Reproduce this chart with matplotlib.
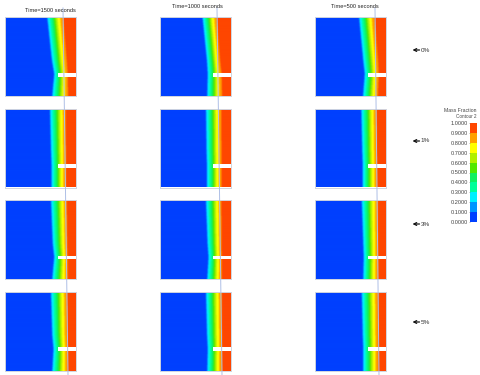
import matplotlib
matplotlib.use("Agg")
import matplotlib.pyplot as plt
import numpy as np
from matplotlib.colors import ListedColormap, BoundaryNorm, to_rgb
from matplotlib.cm import ScalarMappable

plt.rcParams['font.family'] = ['Liberation Sans', 'DejaVu Sans']

time_labels = ["Time=1500 seconds", "Time=1000 seconds", "Time=500 seconds"]
row_labels = ["0%", "1%", "3%", "5%"]
level_labels = ["0.0000", "0.1000", "0.2000", "0.3000", "0.4000", "0.5000",
                "0.6000", "0.7000", "0.8000", "0.9000", "1.0000"]
levels = [0, .1, .2, .3, .4, .5, .6, .7, .8, .9, 1]
band_colors = ["#0040ff", "#0096ff", "#00f0ff", "#00ff9a", "#10f060",
               "#50e800", "#b0f000", "#ffff00", "#ffa000", "#ff4600"]
# share of the way from the 0.1 contour to the 0.9 contour for each inner contour
contour_share = [0, .04, .17, .3, .42, .53, .65, .82, 1]

# depth fractions at which the contours were read
depth = [0, .55, .72, 1]
# 0.1 contour and 0.9 contour position, per row then per column
low_front = {
    (0, 0): [42, 46.7, 49, 47], (0, 1): [42.3, 46.7, 47.5, 47], (0, 2): [43.8, 48, 49.5, 47.8],
    (1, 0): [44.7, 45.8, 46.3, 46.3], (1, 1): [45.7, 46.3, 46.7, 46.7], (1, 2): [46, 47, 47.5, 47.5],
    (2, 0): [45.7, 47.5, 49, 47], (2, 1): [45.7, 47.3, 48.3, 47], (2, 2): [46.5, 48, 48.5, 48],
    (3, 0): [45.7, 47, 48.3, 47], (3, 1): [45.7, 46.8, 47.5, 47], (3, 2): [46.5, 47.5, 48, 48],
}
high_front = {
    (0, 0): [58, 61.7, 62.7, 63], (0, 1): [56.7, 60, 61.5, 62], (0, 2): [59.5, 63, 63.7, 62.8],
    (1, 0): [60.7, 60.9, 61, 61], (1, 1): [61.3, 61.4, 61.5, 61.5], (1, 2): [61.5, 61.8, 62, 62],
    (2, 0): [61.7, 62.2, 62.7, 62.7], (2, 1): [61.3, 61.5, 61.7, 61.7], (2, 2): [62.8, 62.9, 63, 63],
    (3, 0): [62, 62.4, 62.7, 62.7], (3, 1): [61.7, 61.9, 62, 62], (3, 2): [63, 63.2, 63.3, 63.3],
}
# panel boxes in image pixels: left, right, top, bottom
col_edges = [(5, 76), (160, 231), (315, 386)]
row_edges = [(17, 96), (109, 187.5), (200, 279), (292, 371)]
notch_rows = [(72.5, 76.5), (164, 167.5), (255.7, 259.3), (347, 351)]
notch_start = 53
guide_tops = [(63, 8), (217, 8), (375, 8)]
guide_bottoms = [(68, 375), (222, 375), (379, 375)]
title_pos = [(50, 10), (197.5, 6), (355, 6)]
row_label_y = [50, 141, 224, 322]

W, H = 480, 375
fig = plt.figure(figsize=(W / 100, H / 100), dpi=100)

def box(l, r, t, b):
    return [l / W, 1 - b / H, (r - l) / W, (b - t) / H]

palette = np.array([to_rgb(c) for c in band_colors])

def panel_image(lo, hi, width, n_y=80, per_px=4, soft_px=0.75):
    """Colour the bands between the read contours, with the reference's soft edges."""
    xs = (np.arange(int(width * per_px)) + .5) / per_px
    ys = (np.arange(n_y) + .5) / n_y
    lo_y = np.interp(ys, depth, lo)
    hi_y = np.interp(ys, depth, hi)
    img = np.zeros((n_y, xs.size, 3))
    half = int(soft_px * per_px)
    kernel = np.ones(2 * half + 1) / (2 * half + 1)
    for j in range(n_y):
        edges = lo_y[j] + (hi_y[j] - lo_y[j]) * np.array(contour_share)
        row = palette[np.searchsorted(edges, xs)]
        for c in range(3):
            padded = np.pad(row[:, c], half, mode="edge")
            img[j, :, c] = np.convolve(padded, kernel, mode="valid")
    return img

border = "#d0d5e0"
for ri, (t, b) in enumerate(row_edges):
    for ci, (l, r) in enumerate(col_edges):
        ax = fig.add_axes(box(l, r, t, b))
        width = r - l
        img = panel_image(low_front[(ri, ci)], high_front[(ri, ci)], width)
        ax.imshow(img, extent=(0, width, 1, 0), aspect="auto", interpolation="bilinear")
        nt, nb = notch_rows[ri]
        ax.axhspan((nt - t) / (b - t), (nb - t) / (b - t), xmin=notch_start / width, xmax=1,
                   color="white", lw=0)
        ax.set_xticks([]); ax.set_yticks([])
        for s in ax.spines.values():
            s.set_color(border); s.set_linewidth(0.7)

over = fig.add_axes([0, 0, 1, 1], facecolor="none")
over.set_xlim(0, W); over.set_ylim(H, 0); over.axis("off")
for (x0, y0), (x1, y1) in zip(guide_tops, guide_bottoms):
    over.plot([x0, x1], [y0, y1], color="#aebfe6", lw=0.7)
for label, (x, y) in zip(time_labels, title_pos):
    over.text(x, y, label, fontsize=4.05, ha="center", va="center", color="#222222")
for label, y in zip(row_labels, row_label_y):
    over.annotate("", xy=(412.5, y), xytext=(419.5, y),
                  arrowprops=dict(arrowstyle="->", lw=0.9, color="#111111", mutation_scale=5,
                                  shrinkA=0, shrinkB=0))
    over.text(425.5, y, label, fontsize=4.6, ha="center", va="center", color="#333333")
over.text(477, 111, "Mass Fraction", fontsize=3.7, ha="right", va="center", color="#444444")
over.text(477, 116, "Contour 2", fontsize=3.3, ha="right", va="center", color="#444444")

cax = fig.add_axes(box(470, 477, 123, 222))
cmap = ListedColormap(band_colors)
cb = fig.colorbar(ScalarMappable(norm=BoundaryNorm(levels, cmap.N), cmap=cmap), cax=cax,
                  ticks=levels, spacing="uniform")
cb.ax.yaxis.set_ticks_position("left")
cb.ax.set_yticklabels(level_labels, fontsize=4.1, color="#444444")
cb.ax.tick_params(length=1.0, width=0.4, pad=0.6, color="#777777")
cb.outline.set_visible(False)

fig.savefig("out.png", dpi=100)
